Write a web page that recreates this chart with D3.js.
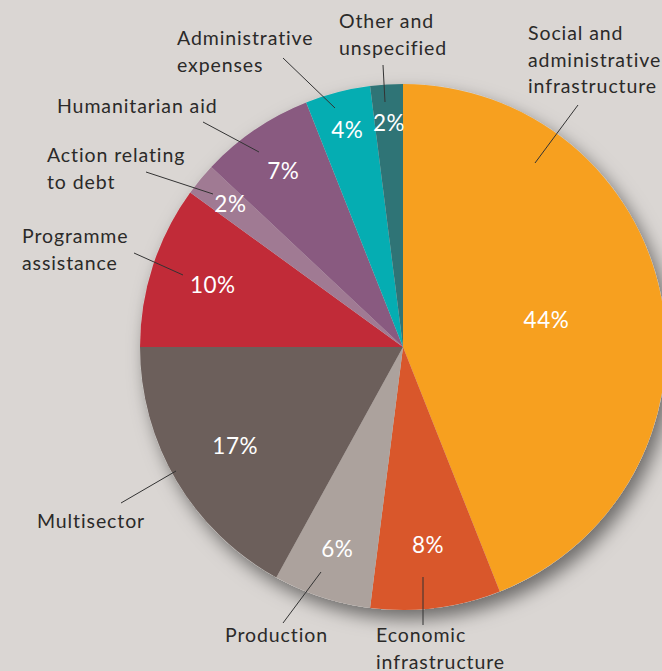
<!DOCTYPE html>
<html>
<head>
<meta charset="utf-8">
<script src="https://cdn.jsdelivr.net/npm/d3@7"></script>
<style>
  body { margin: 0; background: #dad6d3; }
  svg { display: block; }
  .lbl { font-family: Lato, "Open Sans", sans-serif; font-size: 19.5px; letter-spacing: 0.9px; fill: #2b2a29; }
  .pct { font-family: Lato, "Open Sans", sans-serif; font-size: 22.5px; letter-spacing: 0.5px; fill: #ffffff; }
</style>
</head>
<body>
<div id="chart"></div>
<script>
// sectors, clockwise from 12 o'clock
var sectors = ["Social and administrative infrastructure", "Economic infrastructure", "Production",
  "Multisector", "Programme assistance", "Action relating to debt", "Humanitarian aid",
  "Administrative expenses", "Other and unspecified"];
var shares = [44, 8, 6, 17, 10, 2, 7, 4, 2];
var colours = ["#f7a01f", "#d9572b", "#aca29d", "#6c5f5b", "#c12b38", "#a07a93", "#895a80", "#05adb2", "#2f7476"];

// label text, split into lines
var labelLines = [
  ["Social and", "administrative", "infrastructure"],
  ["Economic", "infrastructure"],
  ["Production"],
  ["Multisector"],
  ["Programme", "assistance"],
  ["Action relating", "to debt"],
  ["Humanitarian aid"],
  ["Administrative", "expenses"],
  ["Other and", "unspecified"]
];

// where the callouts sit (text origin and leader line)
var callouts = [
  {tx: 528, ty: 40, line: [[578, 105], [535, 163]]},
  {tx: 376, ty: 642, line: [[423, 625], [423, 577]]},
  {tx: 225, ty: 642, line: [[283, 623], [321, 572]]},
  {tx: 37, ty: 528, line: [[121, 503], [176, 471]]},
  {tx: 22, ty: 243, line: [[134, 253], [183, 275]]},
  {tx: 47, ty: 162, line: [[146, 172], [213, 194]]},
  {tx: 57, ty: 113, line: [[203, 122], [259, 152]]},
  {tx: 177, ty: 45, line: [[283, 58], [335, 108]]},
  {tx: 339, ty: 28, line: [[383, 65], [385, 102]]}
];

var w = 662, h = 671;
var cx = 403, cy = 347, radius = 263;

var svg = d3.select("#chart")
  .append("svg")
    .attr("width", w)
    .attr("height", h);

svg.append("rect").attr("width", w).attr("height", h).attr("fill", "#dad6d3");

var defs = svg.append("defs");
defs.append("filter")
    .attr("id", "shadow")
    .attr("x", "-20%").attr("y", "-20%")
    .attr("width", "140%").attr("height", "140%")
  .append("feDropShadow")
    .attr("dx", 6).attr("dy", 9)
    .attr("stdDeviation", 9)
    .attr("flood-color", "#000")
    .attr("flood-opacity", 0.5);

var data = sectors.map((s, i) => ({sector: s, value: shares[i], colour: colours[i], lines: labelLines[i], c: callouts[i]}));

var pie = d3.pie().value(d => d.value).sort(null);
var arcs = pie(data);

var arc = d3.arc().innerRadius(0).outerRadius(radius);

var g = svg.append("g")
    .attr("transform", "translate(" + cx + "," + cy + ")");

// shadow disc under the pie
g.append("circle")
  .attr("r", radius)
  .attr("fill", "#dad6d3")
  .attr("filter", "url(#shadow)");

g.selectAll("path.slice")
  .data(arcs)
  .enter()
  .append("path")
    .attr("class", "slice")
    .attr("d", arc)
    .attr("fill", d => d.data.colour);

// how far out the % label sits, by slice size
function labelRadius(v) {
  if (v > 30) return 146;
  if (v >= 15) return 195;
  if (v >= 8) return 200;
  if (v >= 5) return 213;
  return 224;
}

// percentage labels inside the slices
g.selectAll("text.pct")
  .data(arcs)
  .enter()
  .append("text")
    .attr("class", "pct")
    .attr("text-anchor", "middle")
    .attr("dy", "0.35em")
    .attr("transform", d => {
      var r = labelRadius(d.data.value);
      var p = d3.arc().innerRadius(r).outerRadius(r).centroid(d);
      return "translate(" + p[0] + "," + p[1] + ")";
    })
    .text(d => d.data.value + "%");

// leader lines
svg.selectAll("line.lead")
  .data(data)
  .enter()
  .append("line")
    .attr("class", "lead")
    .attr("x1", d => d.c.line[0][0])
    .attr("y1", d => d.c.line[0][1])
    .attr("x2", d => d.c.line[1][0])
    .attr("y2", d => d.c.line[1][1])
    .attr("stroke", "#333")
    .attr("stroke-width", 1);

// category labels
var labels = svg.selectAll("text.lbl")
  .data(data)
  .enter()
  .append("text")
    .attr("class", "lbl")
    .attr("x", d => d.c.tx)
    .attr("y", d => d.c.ty);

labels.selectAll("tspan")
  .data(d => d.lines.map(l => ({t: l, x: d.c.tx})))
  .enter()
  .append("tspan")
    .attr("x", d => d.x)
    .attr("dy", (d, i) => i === 0 ? 0 : 26.5)
    .text(d => d.t);
</script>
</body>
</html>
